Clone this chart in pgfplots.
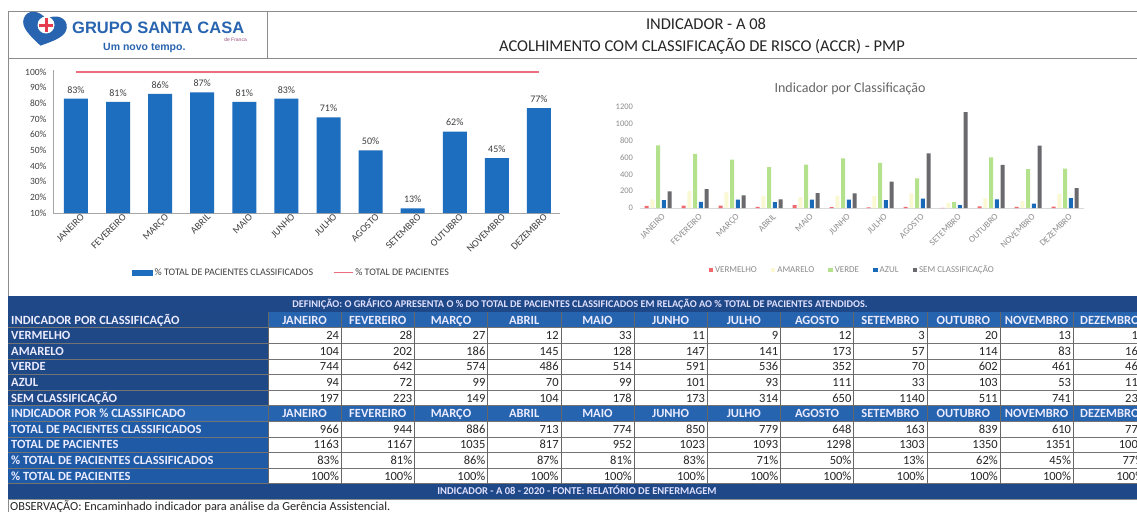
\documentclass[border=0pt]{standalone}
\usepackage{fontspec}
\setmainfont{Carlito}
\newfontfamily\logofont{Liberation Sans}
\usepackage{pgfplots}
\pgfplotsset{compat=1.18}
\pgfplotsset{/pgf/number format/assume math mode=true, /pgf/number format/1000 sep={}}

\definecolor{barblue}{RGB}{30,110,192}
\definecolor{redline}{RGB}{236,110,125}
\definecolor{verm}{RGB}{240,105,110}
\definecolor{amar}{RGB}{250,249,212}
\definecolor{verde}{RGB}{180,225,140}
\definecolor{azul}{RGB}{25,105,185}
\definecolor{sem}{RGB}{105,105,110}
\definecolor{navy}{RGB}{31,72,135}
\definecolor{hdr}{RGB}{38,100,175}
\definecolor{lab2}{RGB}{30,90,165}
\definecolor{band}{RGB}{30,72,135}
\definecolor{txt}{RGB}{64,64,64}
\definecolor{ltxt}{RGB}{140,140,140}
\definecolor{framec}{RGB}{140,140,140}
\definecolor{logoblue}{RGB}{40,100,175}
\definecolor{logored}{RGB}{230,60,80}

\newcommand\fsz[1]{\fontsize{#1}{#1}\selectfont}

\begin{document}
\begin{tikzpicture}
\useasboundingbox (0pt,0pt) rectangle (1137pt,-512pt);
\clip (0pt,0pt) rectangle (1137pt,-512pt);
\begin{scope}[x=1pt,y=-1pt]
\fill[white] (0,0) rectangle (1137,512);
\draw[framec, line width=0.8pt] (8,11) -- (1140,11);
\draw[framec, line width=0.8pt] (8,58) -- (1140,58);
\draw[framec, line width=0.8pt] (8,11) -- (8,512);
\draw[framec, line width=0.8pt] (267,11) -- (267,58);
\begin{scope}[rotate around={-12:(44,29)}]
\fill[logoblue] (44,46) .. controls (31,38) and (21,32) .. (22,23) .. controls (23,13) and (36,11) .. (44,19) .. controls (52,11) and (65,13) .. (66,23) .. controls (67,32) and (57,38) .. (44,46) -- cycle;
\end{scope}
\fill[white] (46,25) circle (8.5);
\fill[logored] (44.5,18) rectangle (47.5,32);
\fill[logored] (39,23.5) rectangle (53,26.5);
\node[font=\logofont\bfseries\fsz{16.5}, text=logoblue, anchor=base west, inner sep=0pt] at (72,33) {GRUPO SANTA CASA};
\node[font=\logofont\fsz{5}, text=logored!60!logoblue, anchor=base east, inner sep=0pt] at (247,41) {de Franca};
\node[font=\logofont\bfseries\fsz{10.5}, text=logoblue, anchor=base west, inner sep=0pt] at (103,50) {Um novo tempo.};
\node[font=\fsz{16.5}, text=black!85, anchor=base, inner sep=0pt] at (706,29) {INDICADOR - A 08};
\node[font=\fsz{16.5}, text=black!85, anchor=base, inner sep=0pt] at (702,51) {ACOLHIMENTO COM CLASSIFICAÇÃO DE RISCO (ACCR) - PMP};
\node[font=\fsz{14}, text=black!60, anchor=base, inner sep=0pt] at (850,92) {Indicador por Classificação};
\end{scope}

\begin{axis}[
  at={(53pt,-213pt)}, anchor=south west, scale only axis,
  width=507pt, height=142.6pt,
  xmin=-0.546, xmax=11.5, ymin=10, ymax=101,
  axis x line*=bottom, axis y line*=left,
  axis line style={draw=black!35, line width=0.6pt},
  tick style={draw=none},
  xtick={0,...,11},
  xticklabels={JANEIRO,FEVEREIRO,MARÇO,ABRIL,MAIO,JUNHO,JULHO,AGOSTO,SETEMBRO,OUTUBRO,NOVEMBRO,DEZEMBRO},
  ytick={10,20,...,100},
  yticklabels={10\%,20\%,30\%,40\%,50\%,60\%,70\%,80\%,90\%,100\%},
  tick label style={font=\fsz{9.5}, text=txt},
  xticklabel style={rotate=45, anchor=north east, inner sep=1pt, font=\fsz{10}, xshift=4pt, yshift=-2pt},
  yticklabel style={xshift=-3pt},
  legend style={at={(0.47,-0.42)}, anchor=center, draw=none, fill=none, font=\fsz{10}, text=txt,
    legend columns=-1, /tikz/every even column/.append style={column sep=18pt}},
]
\addplot[ybar, bar width=24pt, fill=barblue, draw=none,
  nodes near coords={\pgfmathprintnumber{\pgfplotspointmeta}\%},
  every node near coord/.append style={font=\fsz{10}, text=txt, yshift=2pt},
  legend image code/.code={\fill[barblue] (0pt,-3pt) rectangle (21pt,3pt);}]
coordinates {(0,83) (1,81) (2,86) (3,87) (4,81) (5,83) (6,71) (7,50) (8,13) (9,62) (10,45) (11,77)};
\addlegendentry{\% TOTAL DE PACIENTES CLASSIFICADOS}
\addplot[draw=redline, color=redline, line width=1.2pt, mark=none,
  legend image code/.code={\draw[redline, line width=1.2pt] (0pt,0pt) -- (19pt,0pt);}]
coordinates {(0,100) (1,100) (2,100) (3,100) (4,100) (5,100) (6,100) (7,100) (8,100) (9,100) (10,100) (11,100)};
\addlegendentry{\% TOTAL DE PACIENTES}
\end{axis}

\begin{axis}[
  at={(639.5pt,-208pt)}, anchor=south west, scale only axis,
  width=444pt, height=101pt,
  xmin=-0.5, xmax=11.5, ymin=0, ymax=1200,
  axis x line*=bottom, axis y line*=left,
  x axis line style={draw=black!15, line width=0.6pt},
  y axis line style={draw=none},
  tick style={draw=none},
  ybar=1.75pt, bar width=4pt,
  xtick={0,...,11},
  xticklabels={JANEIRO,FEVEREIRO,MARÇO,ABRIL,MAIO,JUNHO,JULHO,AGOSTO,SETEMBRO,OUTUBRO,NOVEMBRO,DEZEMBRO},
  ytick={0,200,...,1200},
  tick label style={font=\fsz{8.5}, text=ltxt},
  xticklabel style={rotate=45, anchor=north east, inner sep=1pt, font=\fsz{9}, xshift=3pt, yshift=-2pt},
  yticklabel style={xshift=-3pt},
  legend style={at={(0.479,-0.614)}, anchor=center, draw=none, fill=none, font=\fsz{9}, text=ltxt,
    legend columns=-1, /tikz/every even column/.append style={column sep=12pt}},
]
\addplot[fill=verm, draw=none, legend image code/.code={\fill[verm] (0pt,-2.2pt) rectangle (4.5pt,2.2pt);}]
coordinates {(0,24) (1,28) (2,27) (3,12) (4,33) (5,11) (6,9) (7,12) (8,3) (9,20) (10,13) (11,17)};
\addlegendentry{VERMELHO}
\addplot[fill=amar, draw=none, legend image code/.code={\fill[amar] (0pt,-2.2pt) rectangle (4.5pt,2.2pt);}]
coordinates {(0,104) (1,202) (2,186) (3,145) (4,128) (5,147) (6,141) (7,173) (8,57) (9,114) (10,83) (11,168)};
\addlegendentry{AMARELO}
\addplot[fill=verde, draw=none, legend image code/.code={\fill[verde] (0pt,-2.2pt) rectangle (4.5pt,2.2pt);}]
coordinates {(0,744) (1,642) (2,574) (3,486) (4,514) (5,591) (6,536) (7,352) (8,70) (9,602) (10,461) (11,468)};
\addlegendentry{VERDE}
\addplot[fill=azul, draw=none, legend image code/.code={\fill[azul] (0pt,-2.2pt) rectangle (4.5pt,2.2pt);}]
coordinates {(0,94) (1,72) (2,99) (3,70) (4,99) (5,101) (6,93) (7,111) (8,33) (9,103) (10,53) (11,118)};
\addlegendentry{AZUL}
\addplot[fill=sem, draw=none, legend image code/.code={\fill[sem] (0pt,-2.2pt) rectangle (4.5pt,2.2pt);}]
coordinates {(0,197) (1,223) (2,149) (3,104) (4,178) (5,173) (6,314) (7,650) (8,1140) (9,511) (10,741) (11,235)};
\addlegendentry{SEM CLASSIFICAÇÃO}
\end{axis}

\begin{scope}[x=1pt,y=-1pt]
\fill[band] (8,296) rectangle (1140,312);
\node[font=\bfseries\fsz{10.3}, text=white!88!blue, anchor=base, inner sep=0pt] at (580,307.5) {DEFINIÇÃO: O GRÁFICO APRESENTA O \% DO TOTAL DE PACIENTES CLASSIFICADOS EM RELAÇÃO AO \% TOTAL DE PACIENTES ATENDIDOS.};
\fill[navy] (8,312) rectangle (268,405.6);
\fill[lab2] (8,405.6) rectangle (268,483.6);
\fill[hdr] (268,312) rectangle (1146,327.6);
\fill[hdr] (8,405.6) rectangle (1146,421.2);
\fill[white] (268,327.6) rectangle (1146,405.6);
\fill[white] (268,421.2) rectangle (1146,483.6);
\fill[band] (8,483.6) rectangle (1140,499);
\foreach \i in {1,...,11} \draw[black!55, line width=0.5pt] (8,{312+15.6*\i}) -- (1146,{312+15.6*\i});
\foreach \j in {0,...,12} \draw[black!60, line width=0.6pt] ({268+73.2*\j},312) -- ({268+73.2*\j},483.6);
\foreach \i/\t in {0/INDICADOR POR CLASSIFICAÇÃO,1/VERMELHO,2/AMARELO,3/VERDE,4/AZUL,5/SEM CLASSIFICAÇÃO,6/INDICADOR POR \% CLASSIFICADO,7/TOTAL DE PACIENTES CLASSIFICADOS,8/TOTAL DE PACIENTES,9/\% TOTAL DE PACIENTES CLASSIFICADOS,10/\% TOTAL DE PACIENTES}
  \node[anchor=base west, inner sep=0pt, font=\bfseries\fsz{12.5}, text=white!92!blue] at (11,{312+15.6*(\i+0.5)+4.2}) {\t};
\foreach \m [count=\j from 0] in {JANEIRO,FEVEREIRO,MARÇO,ABRIL,MAIO,JUNHO,JULHO,AGOSTO,SETEMBRO,OUTUBRO,NOVEMBRO,DEZEMBRO} {
  \node[anchor=base, inner sep=0pt, font=\bfseries\fsz{12.5}, text=white!92!blue] at ({268+73.2*(\j+0.5)},{312+7.8+4.2}) {\m};
  \node[anchor=base, inner sep=0pt, font=\bfseries\fsz{12.5}, text=white!92!blue] at ({268+73.2*(\j+0.5)},{312+15.6*6.5+4.2}) {\m};
}
\foreach \i/\vals in {
  1/{24,28,27,12,33,11,9,12,3,20,13,17},
  2/{104,202,186,145,128,147,141,173,57,114,83,168},
  3/{744,642,574,486,514,591,536,352,70,602,461,468},
  4/{94,72,99,70,99,101,93,111,33,103,53,118},
  5/{197,223,149,104,178,173,314,650,1140,511,741,235},
  7/{966,944,886,713,774,850,779,648,163,839,610,771},
  8/{1163,1167,1035,817,952,1023,1093,1298,1303,1350,1351,1006},
  9/{83\%,81\%,86\%,87\%,81\%,83\%,71\%,50\%,13\%,62\%,45\%,77\%},
  10/{100\%,100\%,100\%,100\%,100\%,100\%,100\%,100\%,100\%,100\%,100\%,100\%}} {
  \foreach \v [count=\j from 0] in \vals
    \node[anchor=base east, inner sep=0pt, font=\fsz{12.5}, text=black!85] at ({268+73.2*(\j+1)-2},{312+15.6*(\i+0.5)+4.2}) {\v};
}
\node[font=\bfseries\fsz{10.5}, text=white!88!blue, anchor=base, inner sep=0pt] at (577,494.5) {INDICADOR - A 08 - 2020 - FONTE: RELATÓRIO DE ENFERMAGEM};
\draw[framec, line width=0.6pt] (8,499) -- (1140,499);
\node[anchor=base west, inner sep=0pt, font=\fsz{12.3}, text=black!85] at (10,510) {OBSERVAÇÃO: Encaminhado indicador para análise da Gerência Assistencial.};
\end{scope}
\end{tikzpicture}
\end{document}
